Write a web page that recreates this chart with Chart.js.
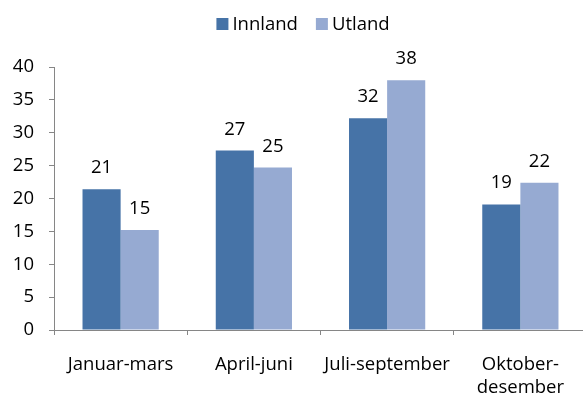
<!DOCTYPE html>
<html>
<head>
<meta charset="utf-8">
<script src="https://cdn.jsdelivr.net/npm/chart.js@4"></script>
<style>
  html, body { margin: 0; padding: 0; background: #fff; overflow: hidden; }
  #wrap { position: relative; width: 588px; height: 397px; }
</style>
</head>
<body>
<div id="wrap"><canvas id="chart"></canvas></div>
<script>
// Quarterly split, domestic vs abroad
var quarters = ['Januar-mars', 'April-juni', 'Juli-september', ['Oktober-', 'desember']];
var innland = [21.4, 27.3, 32.2, 19.1];
var utland  = [15.2, 24.7, 38.0, 22.4];
var yTicks  = [0, 5, 10, 15, 20, 25, 30, 35, 40];

var FONT = '"Open Sans", Lato, sans-serif';
var FSIZE = 18.5;
var AXIS = '#868686';
var COLORS = ['#4673A7', '#96AAD2'];

// value on top of each bar
var barValueLabels = {
  id: 'barValueLabels',
  afterDatasetsDraw: function(chart) {
    var ctx = chart.ctx;
    ctx.save();
    ctx.font = FSIZE + 'px ' + FONT;
    ctx.fillStyle = '#000';
    ctx.textAlign = 'center';
    ctx.textBaseline = 'alphabetic';
    chart.data.datasets.forEach(function(ds, i) {
      chart.getDatasetMeta(i).data.forEach(function(bar, j) {
        ctx.fillText(String(Math.round(ds.data[j])), bar.x, bar.y - 16);
      });
    });
    ctx.restore();
  }
};

// compact legend: square, small gap, label
var topLegend = {
  id: 'topLegend',
  afterDraw: function(chart) {
    var ctx = chart.ctx;
    var box = 12, gap = 4, itemGap = 18, cx = 303, boxTop = 18;
    ctx.save();
    ctx.font = FSIZE + 'px ' + FONT;
    ctx.textBaseline = 'middle';
    ctx.textAlign = 'left';
    var items = chart.data.datasets.map(function(ds) {
      return { text: ds.label, color: ds.backgroundColor, w: ctx.measureText(ds.label).width };
    });
    var total = 0;
    items.forEach(function(it, i) { total += box + gap + it.w + (i ? itemGap : 0); });
    var x = cx - total / 2;
    items.forEach(function(it) {
      ctx.fillStyle = it.color;
      ctx.fillRect(x, boxTop, box, box);
      ctx.fillStyle = '#000';
      ctx.fillText(it.text, x + box + gap, boxTop + box / 2 + 1);
      x += box + gap + it.w + itemGap;
    });
    ctx.restore();
  }
};

new Chart(document.getElementById('chart'), {
  type: 'bar',
  data: {
    labels: quarters,
    datasets: [
      { label: 'Innland', data: innland, backgroundColor: COLORS[0], barPercentage: 1, categoryPercentage: 0.572 },
      { label: 'Utland',  data: utland,  backgroundColor: COLORS[1], barPercentage: 1, categoryPercentage: 0.572 }
    ]
  },
  options: {
    responsive: true,
    maintainAspectRatio: false,
    animation: false,
    layout: { padding: { top: 67, right: 1, left: 0, bottom: 0 } },
    plugins: {
      legend: { display: false },
      tooltip: { enabled: false }
    },
    scales: {
      x: {
        grid: { display: true, drawOnChartArea: false, drawTicks: true, tickLength: 5, color: AXIS, offset: true },
        border: { color: AXIS },
        ticks: { color: '#000', font: { family: FONT, size: FSIZE, lineHeight: 1.25 }, padding: 18, maxRotation: 0 },
        afterFit: function(s) { s.height = 67; }
      },
      y: {
        min: 0, max: 40,
        afterBuildTicks: function(s) { s.ticks = yTicks.map(function(v) { return { value: v }; }); },
        grid: { display: true, drawOnChartArea: false, drawTicks: true, tickLength: 5, color: AXIS },
        border: { color: AXIS },
        ticks: { color: '#000', font: { family: FONT, size: FSIZE }, padding: 15 },
        afterFit: function(s) { s.width = 54; }
      }
    }
  },
  plugins: [barValueLabels, topLegend]
});
</script>
</body>
</html>
